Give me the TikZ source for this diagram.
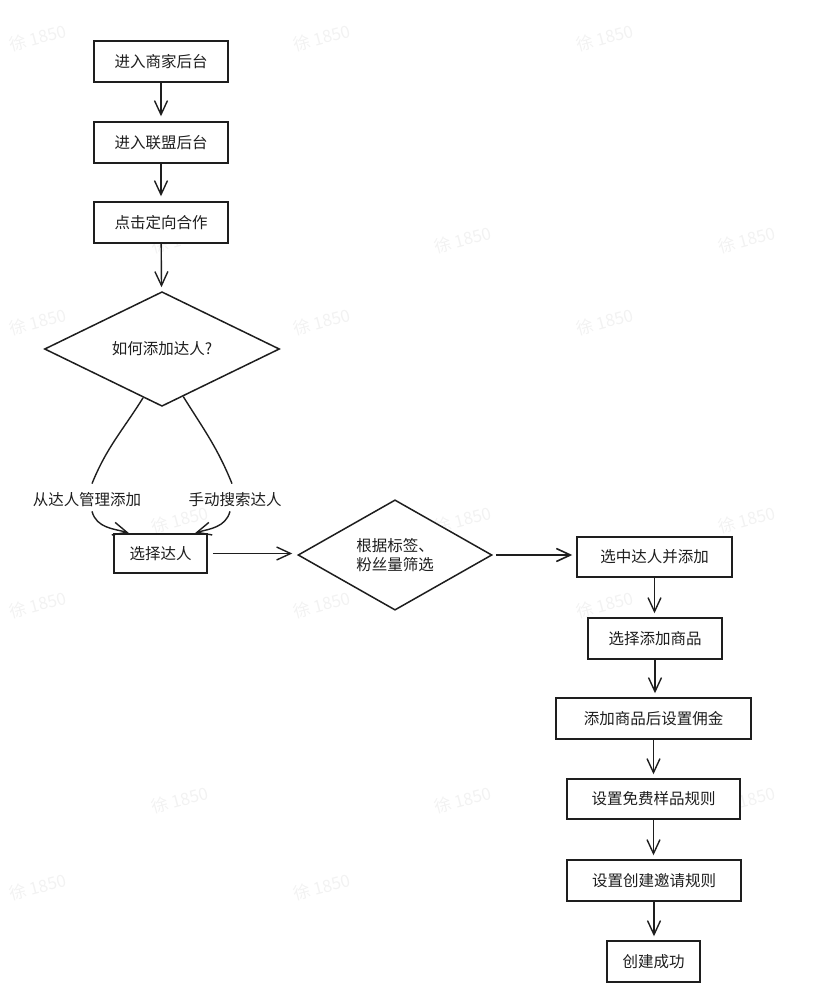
\documentclass[tikz,border=0pt]{standalone}
\usepackage{fontspec}
\newfontfamily\cjk{Noto Sans CJK SC}
\usetikzlibrary{shapes.geometric,arrows.meta,calc}
\definecolor{ink}{HTML}{1E1E1E}
\tikzset{
  txt/.style={font=\cjk\fontsize{15.5}{18.5}\selectfont, text=ink},
  box/.style={txt, draw=ink, line width=1.5pt, fill=white, rectangle, inner sep=0pt},
  dia/.style={txt, draw=ink, line width=1.5pt, fill=white, diamond, inner sep=0pt, align=center},
  lbl/.style={txt, inner sep=1pt},
  link/.style={draw=ink, line width=1.4pt},
  arr/.style={link, -{Straight Barb[length=14pt,width=13pt]}},
  wm/.style={font=\cjk\fontsize{17}{17}\selectfont, text=black!5, rotate=15}
}
\begin{document}
\begin{tikzpicture}[x=1pt,y=-1pt]
\useasboundingbox (0,0) rectangle (816,989);
% watermarks (behind)
\foreach \yy [count=\r] in {38,322,605}
  \foreach \xx [count=\c] in {38,322,605}
    \node[wm] (wa-\r-\c) at (\xx,\yy) {徐 1850};
\node[wm] (wa-4-1) at (38,887) {徐 1850};
\node[wm] (wa-4-2) at (322,887) {徐 1850};
\foreach \yy [count=\r] in {240,520,800}
  \foreach \xx [count=\c] in {180,463,747}
    \node[wm] (wb-\r-\c) at (\xx,\yy) {徐 1850};
% left column
\node[box, minimum width=134pt, minimum height=41pt] (b1) at (161,61.5) {进入商家后台};
\node[box, minimum width=134pt, minimum height=41pt] (b2) at (161,142.5) {进入联盟后台};
\node[box, minimum width=134pt, minimum height=41pt] (b3) at (161,222.5) {点击定向合作};
\node[dia, minimum width=235pt, minimum height=102pt] (d1) at (162,349) {如何添加达人?};
\node[lbl] (l1) at (87,500) {从达人管理添加};
\node[lbl] (l2) at (235,500) {手动搜索达人};
\node[box, minimum width=93pt, minimum height=39pt] (sel) at (160.5,553.5) {选择达人};
\node[dia, minimum width=194pt, minimum height=104pt] (d2) at (395,555) {根据标签、\\粉丝量筛选};
% right column
\node[box, minimum width=155pt, minimum height=40pt] (pick) at (654.5,557) {选中达人并添加};
\node[box, minimum width=134pt, minimum height=41pt] (goods) at (655,638.5) {选择添加商品};
\node[box, minimum width=195pt, minimum height=41pt] (comm) at (653.5,718.5) {添加商品后设置佣金};
\node[box, minimum width=173pt, minimum height=40pt] (free) at (653.5,799) {设置免费样品规则};
\node[box, minimum width=174pt, minimum height=41pt] (invite) at (654,880.5) {设置创建邀请规则};
\node[box, minimum width=93pt, minimum height=41pt] (done) at (653.5,961.5) {创建成功};
% connectors
\draw[arr, shorten >=5pt] (b1) -- (b2);
\draw[arr, shorten >=5pt] (b2) -- (b3);
\draw[arr, shorten >=4pt] (b3) -- (d1);
\draw[link] ($(d1.south)!0.16!(d1.west)$) to[out=238,in=68] ([xshift=5pt,yshift=8pt]l1.north);
\draw[link] ($(d1.south)!0.18!(d1.east)$) to[out=302,in=112] ([xshift=-3pt,yshift=8pt]l2.north);
\draw[arr, shorten >=2pt] ([xshift=5pt,yshift=-3pt]l1.south) to[out=-75,in=165] ([xshift=-30pt]sel.north);
\draw[arr, shorten >=2pt] ([xshift=-5pt,yshift=-3pt]l2.south) to[out=255,in=15] ([xshift=33pt]sel.north);
\draw[arr, shorten <=5pt, shorten >=5pt] (sel.east) -- (sel.east -| d2.west);
\draw[arr, line width=1.6pt, shorten <=3pt, shorten >=4pt] (d2.east) -- (d2.east -| pick.west);
\draw[arr, shorten >=4pt] (pick.south) -- (pick.south |- goods.north);
\draw[arr, shorten >=4pt] (goods.south) -- (goods.south |- comm.north);
\draw[arr, shorten >=4pt] (comm.south) -- (comm.south |- free.north);
\draw[arr, shorten >=4pt] (free.south) -- (free.south |- invite.north);
\draw[arr, shorten >=4pt] (invite.south) -- (invite.south |- done.north);
\end{tikzpicture}
\end{document}
